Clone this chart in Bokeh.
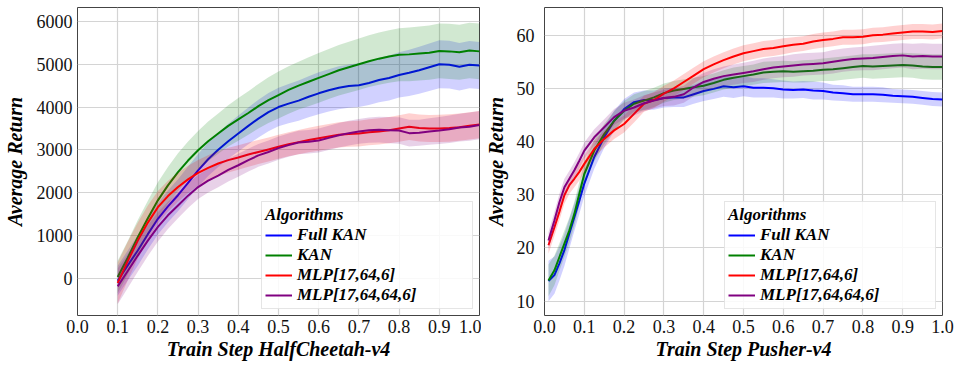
from bokeh.plotting import figure
from bokeh.layouts import row
from bokeh.models import FixedTicker, PrintfTickFormatter
from bokeh.embed import file_html
from bokeh.resources import INLINE

FONT = "Liberation Serif"
NAMES = ["Full KAN", "KAN", "MLP[17,64,6]", "MLP[17,64,64,6]"]
COLORS = ["#0000ff", "#008000", "#ff0000", "#800080"]

# ---------------- HalfCheetah-v4 ----------------
x_hc = [0.1, 0.125, 0.15, 0.175, 0.2, 0.225, 0.25, 0.275, 0.3, 0.325, 0.35, 0.375, 0.4,
        0.425, 0.45, 0.475, 0.5, 0.525, 0.55, 0.575, 0.6, 0.625, 0.65, 0.675, 0.7, 0.725,
        0.75, 0.775, 0.8, 0.825, 0.85, 0.875, 0.9, 0.925, 0.95, 0.975, 1.0]
hc_fullkan = [-60, 300, 650, 1030, 1390, 1680, 1940, 2230, 2520, 2780, 3000, 3200, 3380, 3560,
              3730, 3880, 4000, 4080, 4150, 4240, 4320, 4390, 4450, 4490, 4510, 4560, 4630, 4680,
              4750, 4800, 4860, 4930, 5000, 4990, 4940, 4990, 4970]
hc_kan = [30, 480, 960, 1400, 1820, 2170, 2480, 2750, 2990, 3200, 3380, 3560, 3710, 3860, 4020,
          4160, 4280, 4400, 4500, 4590, 4680, 4770, 4860, 4930, 5000, 5070, 5130, 5180, 5220,
          5230, 5250, 5270, 5310, 5300, 5280, 5320, 5300]
hc_mlp1 = [-110, 400, 880, 1300, 1660, 1920, 2130, 2310, 2460, 2580, 2680, 2760, 2820, 2890, 2950,
           3010, 3070, 3130, 3180, 3230, 3270, 3310, 3350, 3370, 3380, 3410, 3430, 3460, 3500,
           3540, 3510, 3500, 3500, 3510, 3530, 3560, 3590]
hc_mlp2 = [-190, 170, 530, 880, 1200, 1470, 1700, 1930, 2130, 2280, 2400, 2530, 2640, 2760, 2870,
           2950, 3040, 3110, 3170, 3190, 3220, 3280, 3340, 3390, 3430, 3460, 3470, 3460, 3450,
           3390, 3400, 3430, 3450, 3480, 3520, 3540, 3580]
hc_fullkan_std = [350, 350, 355, 360, 365, 370, 375, 378, 380, 390, 400, 410, 420, 430, 440, 445,
                  450, 460, 470, 480, 490, 495, 500, 505, 510, 515, 520, 525, 530, 540, 550, 555,
                  560, 560, 555, 550, 550]
hc_kan_std = [380, 390, 400, 410, 420, 430, 440, 445, 450, 460, 470, 480, 500, 510, 520, 535, 550,
              555, 560, 570, 580, 585, 590, 595, 600, 605, 610, 615, 620, 625, 630, 635, 640, 645,
              640, 650, 650]
hc_mlp1_std = [480, 450, 420, 400, 380, 360, 340, 320, 300, 295, 290, 288, 285, 283, 282, 280, 280,
               282, 285, 288, 290, 292, 295, 298, 300, 302, 305, 308, 310, 312, 315, 316, 318, 320,
               320, 320, 320]
hc_mlp2_std = [420, 400, 380, 360, 340, 320, 300, 290, 280, 275, 272, 270, 270, 268, 268, 270, 270,
               272, 274, 276, 280, 282, 285, 288, 290, 295, 300, 305, 310, 310, 305, 310, 315, 320,
               325, 330, 330]

# ---------------- Pusher-v4 ----------------
x_pu = [0.01, 0.025, 0.0375, 0.05, 0.0625, 0.075, 0.0875, 0.1, 0.125, 0.15, 0.175, 0.2, 0.225,
        0.25, 0.275, 0.3, 0.325, 0.35, 0.375, 0.4, 0.425, 0.45, 0.475, 0.5, 0.525, 0.55, 0.575,
        0.6, 0.625, 0.65, 0.675, 0.7, 0.725, 0.75, 0.775, 0.8, 0.825, 0.85, 0.875, 0.9, 0.925,
        0.95, 0.975, 1.0]
pu_fullkan = [13.8, 14.9, 17.1, 19.6, 22.7, 25.8, 28.9, 32.1, 37.1, 40.8, 43.9, 46.1, 47.4, 47.8,
              47.8, 48.2, 48.3, 48.3, 48.9, 49.5, 49.9, 50.4, 50.2, 50.4, 50.1, 50.1, 50.0, 49.8,
              49.7, 49.8, 49.6, 49.5, 49.2, 49.1, 48.9, 48.9, 48.9, 48.8, 48.6, 48.5, 48.4, 48.2,
              48.0, 47.9]
pu_kan = [13.9, 15.8, 18.3, 20.8, 23.3, 26.4, 30.2, 33.9, 38.3, 41.4, 43.9, 45.8, 47.1, 47.7, 48.3,
          49.1, 49.6, 49.9, 50.2, 50.5, 51.0, 51.6, 52.0, 52.3, 52.6, 53.0, 53.1, 53.2, 53.1, 53.2,
          53.3, 53.5, 53.6, 53.8, 54.0, 54.2, 54.1, 54.2, 54.3, 54.4, 54.3, 54.1, 54.0, 54.0]
pu_mlp1 = [20.5, 23.9, 26.8, 29.9, 31.8, 33.0, 34.3, 35.8, 38.6, 40.5, 42.1, 43.3, 45.2, 47.1, 47.8,
           49.0, 50.0, 51.2, 52.4, 53.6, 54.5, 55.3, 56.0, 56.6, 57.0, 57.4, 57.6, 57.9, 58.2, 58.4,
           58.8, 59.1, 59.3, 59.6, 59.6, 59.7, 60.0, 60.1, 60.3, 60.5, 60.7, 60.7, 60.6, 60.8]
pu_mlp2 = [21.4, 25.2, 28.6, 31.4, 33.0, 34.6, 36.4, 38.3, 40.8, 42.7, 44.6, 45.8, 46.4, 47.2, 47.7,
           48.2, 48.4, 48.9, 50.2, 51.2, 51.8, 52.3, 52.6, 52.9, 53.2, 53.6, 53.9, 54.1, 54.3, 54.5,
           54.6, 54.7, 55.0, 55.3, 55.5, 55.6, 55.7, 55.9, 56.1, 56.2, 56.0, 56.1, 56.0, 56.0]
pu_fullkan_std = [3.8, 3.5, 3.2, 3.0, 2.8, 2.6, 2.5, 2.4, 2.2, 2.0, 1.9, 1.9, 1.8, 1.8, 1.8, 1.8,
                  1.8, 1.8, 1.8, 1.9, 1.9, 2.0, 2.0, 1.9, 1.8, 1.8, 1.7, 1.7, 1.6, 1.6, 1.7, 1.6,
                  1.5, 1.5, 1.4, 1.4, 1.4, 1.4, 1.3, 1.3, 1.3, 1.3, 1.3, 1.3]
pu_kan_std = [3.0, 2.8, 2.6, 2.5, 2.4, 2.3, 2.2, 2.1, 2.0, 1.9, 1.8, 1.8, 1.8, 1.8, 1.8, 1.8, 1.8,
              1.8, 1.8, 1.8, 1.8, 1.8, 1.9, 1.9, 1.9, 2.0, 2.0, 2.0, 2.0, 2.1, 2.1, 2.1, 2.2, 2.2,
              2.2, 2.2, 2.3, 2.3, 2.3, 2.3, 2.3, 2.4, 2.4, 2.4]
pu_mlp1_std = [1.6, 1.6, 1.6, 1.6, 1.6, 1.6, 1.6, 1.6, 1.6, 1.6, 1.6, 1.6, 1.6, 1.5, 1.5, 1.5, 1.5,
               1.5, 1.5, 1.5, 1.5, 1.5, 1.5, 1.5, 1.5, 1.5, 1.5, 1.5, 1.4, 1.4, 1.4, 1.4, 1.4, 1.4,
               1.4, 1.4, 1.4, 1.4, 1.4, 1.4, 1.4, 1.4, 1.4, 1.4]
pu_mlp2_std = [1.6, 1.6, 1.6, 1.6, 1.5, 1.5, 1.5, 1.5, 1.5, 1.5, 1.5, 1.5, 1.5, 1.5, 1.5, 1.5, 1.6,
               1.6, 1.7, 1.7, 1.8, 1.8, 1.9, 1.9, 2.0, 2.0, 2.0, 2.0, 2.1, 2.1, 2.1, 2.1, 2.2, 2.2,
               2.2, 2.2, 2.3, 2.3, 2.3, 2.3, 2.4, 2.4, 2.4, 2.4]

x_ticks = [0.0, 0.1, 0.2, 0.3, 0.4, 0.5, 0.6, 0.7, 0.8, 0.9, 1.0]
hc_yticks = [0, 1000, 2000, 3000, 4000, 5000, 6000]
pu_yticks = [10, 20, 30, 40, 50, 60]


def make_fig(width, bl, br, yr, yticks, xlabel, xs, means, stds, ystandoff, axstandoff):
    p = figure(width=width, height=365, output_backend="svg", toolbar_location=None,
               x_range=(0, 1), y_range=yr,
               min_border_left=bl, min_border_right=br, min_border_top=7, min_border_bottom=50)
    p.xaxis.axis_label = xlabel
    p.yaxis.axis_label = "Average Return"
    p.xaxis.axis_label_text_font = FONT
    p.yaxis.axis_label_text_font = FONT
    p.xaxis.major_label_text_font = FONT
    p.yaxis.major_label_text_font = FONT
    p.xaxis.major_label_text_font_size = "18px"
    p.yaxis.major_label_text_font_size = "18px"
    p.xaxis.axis_label_text_font_size = "20px"
    p.yaxis.axis_label_text_font_size = "20px"
    p.xaxis.axis_label_text_font_style = "bold italic"
    p.yaxis.axis_label_text_font_style = "bold italic"
    p.xaxis.major_label_text_color = "#111111"
    p.yaxis.major_label_text_color = "#111111"
    p.xaxis.axis_label_text_color = "#000000"
    p.yaxis.axis_label_text_color = "#000000"
    p.xaxis.major_label_standoff = 4
    p.xaxis.axis_label_standoff = 2
    p.yaxis.major_label_standoff = ystandoff
    p.yaxis.axis_label_standoff = axstandoff
    p.xaxis.ticker = FixedTicker(ticks=x_ticks)
    p.yaxis.ticker = FixedTicker(ticks=yticks)
    p.xaxis.formatter = PrintfTickFormatter(format="%.1f")
    p.yaxis.formatter = PrintfTickFormatter(format="%d")
    p.axis.axis_line_color = None
    p.axis.major_tick_out = 0
    p.axis.major_tick_in = 0
    p.axis.minor_tick_out = 0
    p.axis.minor_tick_in = 0
    p.outline_line_color = "#444444"
    p.outline_line_width = 1
    p.grid.grid_line_color = "#d4d4d4"
    p.grid.grid_line_width = 1.2

    for name, m, s, c in zip(NAMES, means, stds, COLORS):
        lo = [a - b for a, b in zip(m, s)]
        hi = [a + b for a, b in zip(m, s)]
        p.varea(x=xs, y1=lo, y2=hi, fill_color=c, fill_alpha=0.18)
        p.line(xs, m, line_color=c, line_width=2, legend_label=name)

    lg = p.legend[0]
    lg.location = "bottom_right"
    lg.title = "Algorithms"
    lg.title_text_font = FONT
    lg.title_text_font_style = "bold italic"
    lg.title_text_font_size = "17px"
    lg.title_text_color = "#000000"
    lg.title_standoff = 0
    lg.label_text_font = FONT
    lg.label_text_font_style = "bold italic"
    lg.label_text_font_size = "17px"
    lg.label_text_color = "#000000"
    lg.label_height = 18
    lg.glyph_height = 18
    lg.glyph_width = 27
    lg.label_width = 172
    lg.label_standoff = 5
    lg.spacing = 0
    lg.padding = 3
    lg.margin = 6
    lg.border_line_color = "#cccccc"
    lg.border_line_width = 1
    lg.background_fill_alpha = 0.85
    return p


p1 = make_fig(481, 77, 2, (-870, 6325), hc_yticks, "Train Step HalfCheetah-v4", x_hc,
              [hc_fullkan, hc_kan, hc_mlp1, hc_mlp2],
              [hc_fullkan_std, hc_kan_std, hc_mlp1_std, hc_mlp2_std], 5, 8)
p2 = make_fig(473, 59, 12, (7.3, 65.2), pu_yticks, "Train Step Pusher-v4", x_pu,
              [pu_fullkan, pu_kan, pu_mlp1, pu_mlp2],
              [pu_fullkan_std, pu_kan_std, pu_mlp1_std, pu_mlp2_std], 10, 7)

open("out.html", "w").write(file_html(row(p1, p2), INLINE))
